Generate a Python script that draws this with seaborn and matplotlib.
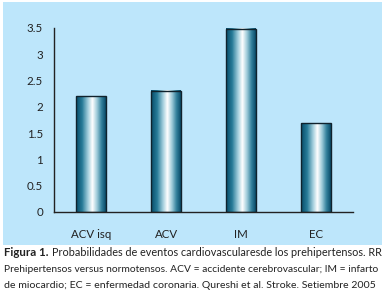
import numpy as np
import pandas as pd
import matplotlib
matplotlib.use("Agg")
import matplotlib.pyplot as plt
from matplotlib.colors import LinearSegmentedColormap
import seaborn as sns

# --- datos ---
categorias = ["ACV isq", "ACV", "IM", "EC"]
riesgo_relativo = [2.2, 2.31, 3.49, 1.69]
y_ticks = [0, 0.5, 1, 1.5, 2, 2.5, 3, 3.5]
y_tick_labels = ["0", "0.5", "1", "1.5", "2", "2.5", "3", "3.5"]

pie_1 = "Probabilidades de eventos cardiovascularesde los prehipertensos. RR"
pie_2 = "Prehipertensos versus normotensos. ACV = accidente cerebrovascular; IM = infarto"
pie_3 = "de miocardio; EC = enfermedad coronaria. Qureshi et al. Stroke. Setiembre 2005"

df = pd.DataFrame({"evento": categorias, "rr": riesgo_relativo})

sns.set_style("white")
plt.rcParams["font.family"] = ["Lato", "DejaVu Sans"]

fig = plt.figure(figsize=(3.88, 2.99), dpi=100)
fig.patch.set_facecolor("white")

# fondo azul del panel
bg = fig.add_axes([3 / 388, 1 - 245 / 299, 379 / 388, 243 / 299], zorder=-1)
bg.set_facecolor("#bde6fb")
bg.set_xticks([])
bg.set_yticks([])
for s in bg.spines.values():
    s.set_visible(False)

ax = fig.add_axes([54 / 388, 87 / 299, 299 / 388, 184 / 299], zorder=1)
ax.set_facecolor("none")

sns.barplot(data=df, x="evento", y="rr", ax=ax, width=0.4,
            color="#1d6f8d", edgecolor="#10222c", linewidth=1.0, zorder=2)

# degradado cilíndrico en cada barra
cmap = LinearSegmentedColormap.from_list(
    "cil", [(0.0, "#084a68"), (0.2, "#267a97"), (0.4, "#a3cfdd"),
            (0.55, "#ffffff"), (0.7, "#a0ccda"), (0.85, "#36839e"),
            (1.0, "#084a68")])
grad = np.linspace(0, 1, 128).reshape(1, -1)
for p in list(ax.patches):
    x0, y0 = p.get_x(), p.get_y()
    w, h = p.get_width(), p.get_height()
    ax.imshow(grad, cmap=cmap, aspect="auto",
              extent=(x0, x0 + w, y0, y0 + h), zorder=2.5)
    p.set_facecolor("none")
    p.set_zorder(3)

ax.set_xlim(-0.5, 3.5)
ax.set_ylim(0, 3.5)
ax.set_yticks(y_ticks)
ax.set_yticklabels(y_tick_labels)
ax.set_xticks([-0.5, 0.5, 1.5, 2.5, 3.5])
ax.set_xticklabels([])
ax.set_xticks(range(len(categorias)), minor=True)
ax.set_xticklabels(categorias, minor=True)
ax.tick_params(axis="x", which="major", direction="out", length=8,
               width=1, color="#222222")
ax.tick_params(axis="x", which="minor", length=0, pad=12,
               labelsize=8.3, labelcolor="#222222")
ax.tick_params(axis="y", direction="out", length=5, width=1,
               color="#222222", labelsize=8.3, labelcolor="#222222", pad=3)
ax.set_xlabel("")
ax.set_ylabel("")
for s in ["top", "right"]:
    ax.spines[s].set_visible(False)
for s in ["left", "bottom"]:
    ax.spines[s].set_color("#222222")
    ax.spines[s].set_linewidth(1)

# pie de figura: cada renglón ajustado a su ancho
fig.text(4 / 388, 1 - 253 / 299, "Figura 1.", fontsize=8.3,
         fontweight="bold", color="#222222", va="center")
renglones = [(pie_1, 52, 380, 253), (pie_2, 4, 381, 269), (pie_3, 4, 374, 285)]
renderer = fig.canvas.get_renderer()
for texto, x_ini, x_fin, y in renglones:
    t = fig.text(x_ini / 388, 1 - y / 299, texto, fontsize=7.2,
                 color="#222222", va="center")
    ancho = t.get_window_extent(renderer).width
    t.set_fontsize(min(8.3, 7.2 * (x_fin - x_ini) / ancho))

fig.savefig("out.png", dpi=100)
